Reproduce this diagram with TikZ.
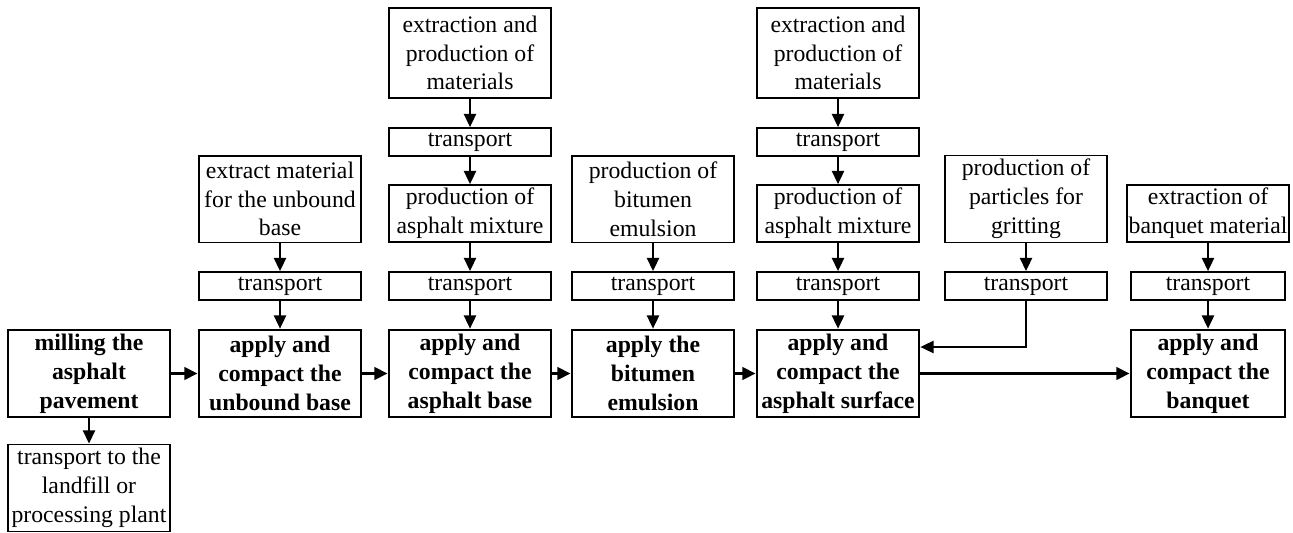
\documentclass[tikz,border=0pt]{standalone}
\usepackage{fontspec}
\setmainfont{Liberation Serif}
\usetikzlibrary{positioning,arrows.meta}

\begin{document}
\begin{tikzpicture}[x=0.02cm,y=0.02cm,on grid,
	font=\fontsize{13.5}{16.4}\selectfont,
	stepbox/.style={rectangle, draw, line width=1.1pt, align=center, minimum width=3.24cm, minimum height=1.74cm, inner sep=1pt},
	transbox/.style={rectangle, draw, line width=1.1pt, minimum width=3.24cm, minimum height=0.56cm, inner sep=1pt},
	applybox/.style={rectangle, draw, line width=1.6pt, align=center, minimum width=3.24cm, minimum height=1.74cm, inner sep=1pt, font=\fontsize{13.5}{16.4}\selectfont\bfseries},
	arr/.style={-{Triangle[length=7.5pt,width=7pt]}, line width=0.8pt},
	thickarr/.style={-{Triangle[length=7.5pt,width=7pt]}, line width=1.6pt}]
	\useasboundingbox (0,0) rectangle (1293,-533);
	% main row
	\node[applybox](10) at (89,-373.5){milling the\\asphalt\\pavement};
	\node[applybox](20) at (280,-373.5){apply and\\compact the\\unbound base};
	\node[applybox](30) at (470,-373.5){apply and\\compact the\\asphalt base};
	\node[applybox](40) at (653,-373.5){apply the\\bitumen\\emulsion};
	\node[applybox](50) at (838,-373.5){apply and\\compact the\\asphalt surface};
	\node[applybox, minimum width=3.08cm](70) at (1208,-373.5){apply and\\compact the\\banquet};
	\node[stepbox](11) [below=2.29cm of 10]{transport to the\\landfill or\\processing plant};
	% supply chains
	\node[transbox](21) [above=1.75cm of 20]{transport};
	\node[stepbox](22) [above=1.74cm of 21]{extract material\\for the unbound\\base};
	\node[transbox](31) [above=1.75cm of 30]{transport};
	\node[stepbox, minimum height=1.14cm](32) [above=1.45cm of 31]{production of\\asphalt mixture};
	\node[transbox](33) [above=1.43cm of 32]{transport};
	\node[stepbox, minimum height=1.8cm](34) [above=1.78cm of 33]{extraction and\\production of\\materials};
	\node[transbox](41) [above=1.75cm of 40]{transport};
	\node[stepbox](42) [above=1.74cm of 41]{production of\\bitumen\\emulsion};
	\node[transbox](51) [above=1.75cm of 50]{transport};
	\node[stepbox, minimum height=1.14cm](52) [above=1.45cm of 51]{production of\\asphalt mixture};
	\node[transbox](53) [above=1.43cm of 52]{transport};
	\node[stepbox, minimum height=1.8cm](54) [above=1.78cm of 53]{extraction and\\production of\\materials};
	\node[transbox](61) at (1026,-286){transport};
	\node[stepbox](62) [above=1.74cm of 61]{production of\\particles for\\gritting};
	\node[transbox, minimum width=3.08cm](71) [above=1.75cm of 70]{transport};
	\node[stepbox, minimum width=3.08cm, minimum height=1.14cm](72) [above=1.45cm of 71]{extraction of\\banquet material};
	% arrows
	\draw[thickarr] (10) -- (20);
	\draw[thickarr] (20) -- (30);
	\draw[thickarr] (30) -- (40);
	\draw[thickarr] (40) -- (50);
	\draw[thickarr] (50) -- (70);
	\draw[arr] (10) -- (11);
	\draw[arr] (22) -- (21);
	\draw[arr] (21) -- (20);
	\draw[arr] (34) -- (33);
	\draw[arr] (33) -- (32);
	\draw[arr] (32) -- (31);
	\draw[arr] (31) -- (30);
	\draw[arr] (42) -- (41);
	\draw[arr] (41) -- (40);
	\draw[arr] (54) -- (53);
	\draw[arr] (53) -- (52);
	\draw[arr] (52) -- (51);
	\draw[arr] (51) -- (50);
	\draw[arr] (62) -- (61);
	\draw[arr] (61) |- ([yshift=0.53cm]50.east);
	\draw[arr] (72) -- (71);
	\draw[arr] (71) -- (70);
\end{tikzpicture}
\end{document}
